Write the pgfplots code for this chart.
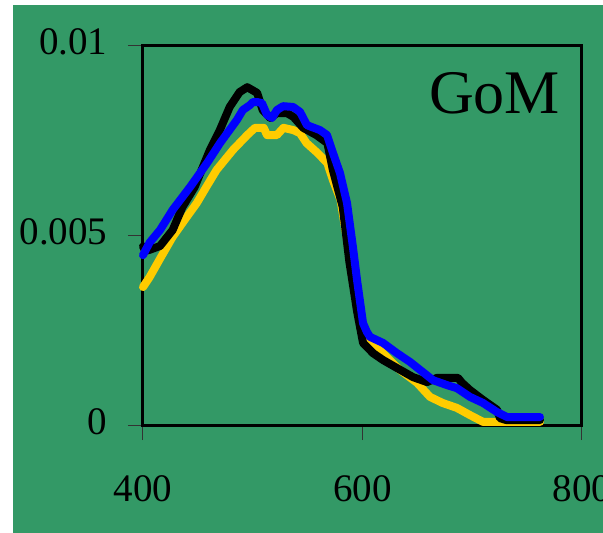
\documentclass[border=0pt]{standalone}
\usepackage{fontspec}
\setmainfont{Liberation Serif}
\usepackage{pgfplots}
\pgfplotsset{compat=1.18}
\definecolor{bggreen}{RGB}{51,153,102}
\definecolor{yel}{RGB}{255,204,0}
\begin{document}
\begin{tikzpicture}
\fill[white] (0pt,0pt) rectangle (603pt,-533pt);
\fill[bggreen] (13pt,-5pt) rectangle (603pt,-533pt);
\begin{axis}[
  at={(143pt,-425pt)}, anchor=south west,
  scale only axis, width=439pt, height=380pt,
  xmin=400, xmax=800, ymin=0, ymax=0.01,
  clip=false,
  xtick={400,600,800}, xticklabels={400,600,800},
  ytick={0,0.005,0.01}, yticklabels={0,0.005,0.01},
  scaled y ticks=false, scaled x ticks=false,
  /pgf/number format/assume math mode=true,
  axis line style={draw=none},
  tick align=outside, major tick length=15pt,
  tick style={line width=1pt, black!80},
  xtick pos=bottom, ytick pos=left,
  ticklabel style={font=\fontsize{39}{39}\selectfont},
  xticklabel style={yshift=-32pt},
  yticklabel style={xshift=-17pt, yshift=3pt},
  every axis plot/.append style={line width=8pt, line join=round, line cap=round, mark=none},
]
\draw[line width=3pt, black] (rel axis cs:0,0) rectangle (rel axis cs:1,1);
\addplot[yel] coordinates {
(400,0.00363)(406,0.00389)(416,0.00440)(427,0.00495)(438,0.00540)(449,0.00584)(458,0.00628)(467,0.00671)(482,0.00724)(495,0.00763)(502,0.00782)(510,0.00782)(513,0.00763)(522,0.00763)(528,0.00782)(537,0.00776)(543,0.00768)(549,0.00742)(559,0.00716)(568,0.00689)(573,0.00645)(580,0.00592)(587,0.00468)(590,0.00400)(595,0.00311)(600.5,0.00242)(605,0.00228)(609.6,0.00216)(622,0.00179)(634,0.00145)(649.7,0.00111)(661.5,0.00074)(673,0.00058)(686,0.00045)(698,0.00026)(710,0.00008)(761.7,0.00008)
};
\addplot[black] coordinates {
(400,0.00470)(402,0.00458)(406,0.00461)(415.5,0.00471)(427,0.00513)(436,0.00574)(447,0.00626)(461,0.00724)(470,0.00776)(479,0.00837)(488,0.00876)(495,0.00889)(504,0.00874)(509,0.00829)(516,0.00808)(522,0.00821)(531,0.00821)(537,0.00811)(546,0.00782)(558,0.00763)(568,0.00742)(573,0.00671)(582,0.00574)(588,0.00430)(595,0.00300)(600.5,0.00216)(609.6,0.00189)(618.7,0.00171)(631.4,0.00150)(646,0.00126)(658.8,0.00113)(667.9,0.00124)(687,0.00124)(690.7,0.00111)(697.9,0.00092)(709.8,0.00066)(722.6,0.00040)(725.3,0.00018)(731,0.00013)(761.7,0.00013)
};
\addplot[blue] coordinates {
(400,0.00447)(406,0.00480)(415.5,0.00513)(427,0.00566)(442.8,0.00626)(458.3,0.00689)(470.2,0.00742)(485.6,0.00803)(491,0.00829)(497.5,0.00842)(500.2,0.00850)(504,0.00850)(508.4,0.00847)(513,0.00816)(517.5,0.00808)(522.1,0.00829)(527.6,0.00839)(536.7,0.00837)(543.1,0.00824)(549.4,0.00789)(561.3,0.00776)(567.7,0.00763)(573.1,0.00716)(579.5,0.00663)(585.9,0.00584)(591.3,0.00468)(595,0.00382)(600.5,0.00268)(604,0.00245)(606.8,0.00232)(618.7,0.00216)(631.4,0.00189)(643.3,0.00166)(655.1,0.00139)(664.2,0.00118)(677,0.00105)(686,0.00097)(697.9,0.00074)(709.8,0.00058)(722.6,0.00034)(731.7,0.00021)(761.7,0.00021)
};
\node[anchor=base, font=\fontsize{62}{62}\selectfont, inner sep=0pt] at (axis cs:720.3,0.00821) {GoM};
\end{axis}
\pgfresetboundingbox
\useasboundingbox (0pt,0pt) rectangle (603pt,-533pt);
\end{tikzpicture}
\end{document}
